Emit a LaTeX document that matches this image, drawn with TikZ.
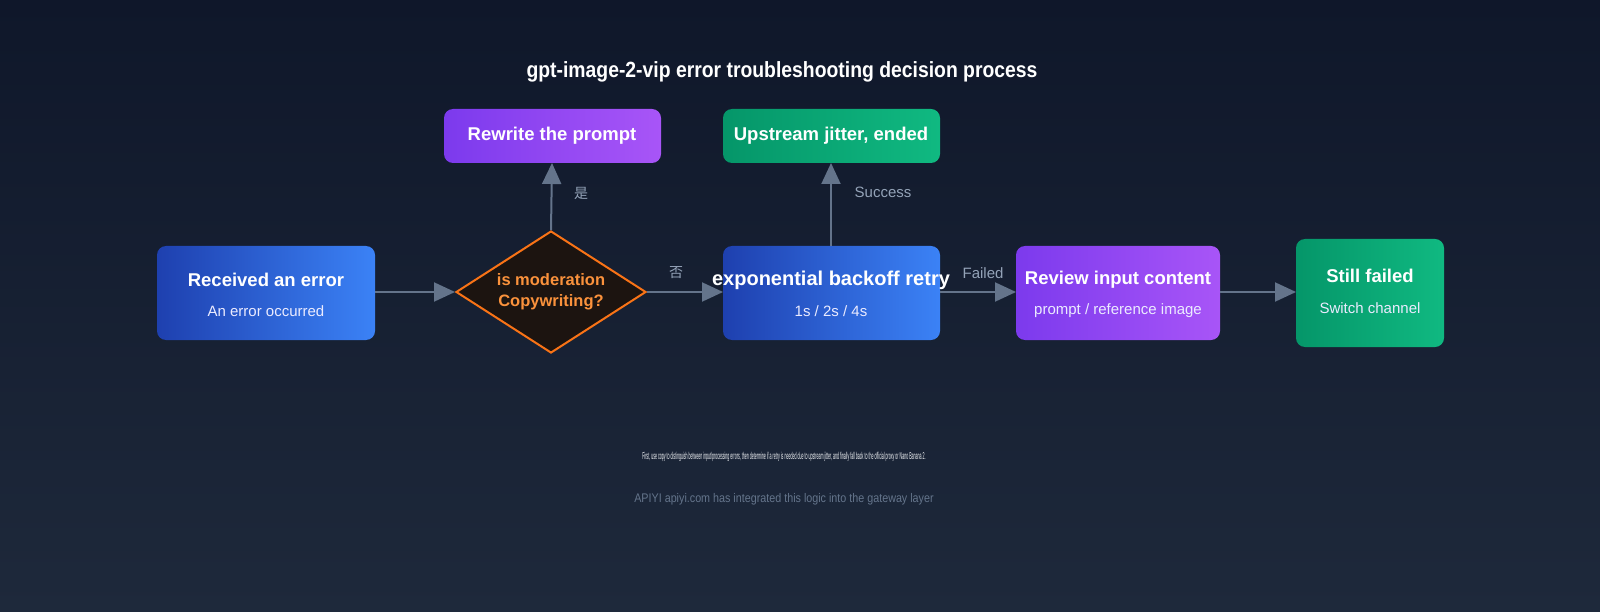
\documentclass[tikz,border=0pt]{standalone}
\usepackage{fontspec}
\setmainfont{Liberation Sans}
\newfontfamily\cjk{Noto Sans CJK SC}
\usetikzlibrary{shapes.geometric,arrows.meta}
\definecolor{bgA}{HTML}{0F172A}
\definecolor{bgB}{HTML}{1E293B}
\definecolor{blA}{HTML}{1E40AF}
\definecolor{blB}{HTML}{3B82F6}
\definecolor{puA}{HTML}{7C3AED}
\definecolor{puB}{HTML}{A855F7}
\definecolor{grA}{HTML}{059669}
\definecolor{grB}{HTML}{10B981}
\definecolor{arr}{HTML}{64748B}
\definecolor{lab}{HTML}{94A3B8}
\definecolor{orD}{HTML}{F97316}
\definecolor{orT}{HTML}{FB923C}
\definecolor{dia}{HTML}{1C1410}
\begin{document}
\begin{tikzpicture}[x=1pt,y=-1pt,
  box/.style={rounded corners=9pt,inner sep=0},
  bl/.style={box,left color=blA,right color=blB},
  pu/.style={box,left color=puA,right color=puB},
  gr/.style={box,left color=grA,right color=grB},
  ttl/.style={text=white,font=\bfseries\fontsize{18.5}{20}\selectfont},
  sub/.style={text=white!92!blue,font=\fontsize{15}{17}\selectfont},
  lbl/.style={text=lab,font=\fontsize{15}{17}\selectfont},
  con/.style={draw=arr,line width=2pt,-{Triangle[length=21pt,width=19pt]}}]
\useasboundingbox (0,0) rectangle (1600,612);
\shade[top color=bgA,bottom color=bgB] (0,0) rectangle (1600,612);
\node[text=white,font=\bfseries\fontsize{22}{24}\selectfont,xscale=0.88] (title) at (782,72) {gpt-image-2-vip error troubleshooting decision process};
% boxes
\path[bl] (157,246) rectangle (375,340); \coordinate (recE) at (375,292);
\node[ttl] (rect) at (266,280) {Received an error};
\node[sub] (recs) at (266,311) {An error occurred};
\node[diamond,draw=orD,line width=2pt,fill=dia,minimum width=190pt,minimum height=122pt,inner sep=0,aspect=1.55] (dia) at (551,292) {};
\node[text=orT,font=\bfseries\fontsize{16.5}{21}\selectfont,align=center] (diat) at (551,292) {is moderation\\Copywriting?};
\path[pu] (444,109) rectangle (661,163); \coordinate (rwB) at (552,163);
\node[ttl] (rw) at (552,136) {Rewrite the prompt};
\path[gr] (723,109) rectangle (940,163); \coordinate (upB) at (831,163);
\node[ttl] (up) at (831,136) {Upstream jitter, ended};
\path[bl] (723,246) rectangle (940,340);
\coordinate (boW) at (723,292); \coordinate (boE) at (940,292); \coordinate (boN) at (831,246);
\node[ttl,font=\bfseries\fontsize{20}{22}\selectfont] (bo) at (831,280) {exponential backoff retry};
\node[sub] (bos) at (831,311) {1s / 2s / 4s};
\path[pu] (1016,246) rectangle (1220,340);
\coordinate (rvW) at (1016,292); \coordinate (rvE) at (1220,292);
\node[ttl] (rv) at (1118,280) {Review input content};
\node[sub] (rvs) at (1118,311) {prompt / reference image};
\path[gr] (1296,239) rectangle (1444,347); \coordinate (sfW) at (1296,292);
\node[ttl] (sf) at (1370,276) {Still failed};
\node[sub] (sfs) at (1370,308) {Switch channel};
% connectors
\draw[con] (recE) -- (dia.west);
\draw[con] (dia.east) -- (boW);
\draw[con] (boE) -- (rvW);
\draw[con] (rvE) -- (sfW);
\draw[con] (dia.north) -- (rwB);
\draw[con] (boN) -- (upB);
\node[lbl,font=\cjk\fontsize{14}{16}\selectfont] (yes) at (581,193) {是};
\node[lbl,font=\cjk\fontsize{14}{16}\selectfont] (no) at (676,273) {否};
\node[lbl] (succ) at (883,192) {Success};
\node[lbl] (fail) at (983,273) {Failed};
% footer
\node[text=white!90!lab,font=\fontsize{10}{12}\selectfont,xscale=0.36] (note) at (784,457) {First, use copy to distinguish between input/processing errors, then determine if a retry is needed due to upstream jitter, and finally fall back to the official proxy or Nano Banana 2.};
\node[text=arr,font=\fontsize{12.5}{14}\selectfont,xscale=0.86] (brand) at (784,499) {APIYI apiyi.com has integrated this logic into the gateway layer};
\end{tikzpicture}
\end{document}
